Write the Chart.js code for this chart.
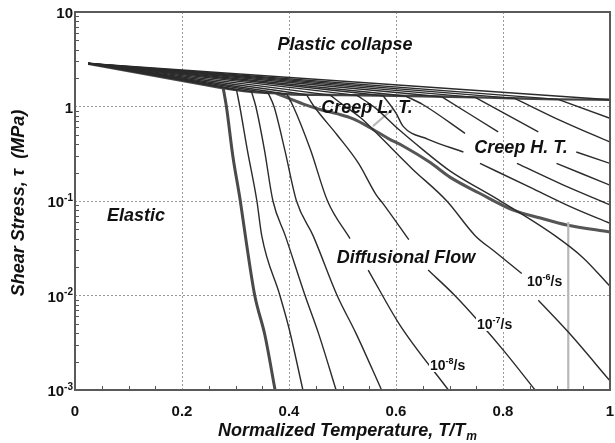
<!DOCTYPE html>
<html><head><meta charset="utf-8">
<script src="https://cdn.jsdelivr.net/npm/chart.js@4"></script>
<style>html,body{margin:0;padding:0;background:#fff}</style>
</head><body>
<canvas id="c" width="615" height="443"></canvas>
<script>
// ---- axis ticks ----
const xTicks = [0, 0.2, 0.4, 0.6, 0.8, 1];
const xTickLabels = ['0', '0.2', '0.4', '0.6', '0.8', '1'];
const yTicks = [0.001, 0.01, 0.1, 1, 10];
const yTickBase = ['10', '10', '10', '1', '10'];
const yTickExp = ['-3', '-2', '-1', '', ''];

// ---- strain-rate contours [T/Tm, tau MPa]; first point = common origin, second = knee; null = break ----
const contour1 = [[0.025,2.85],[0.277,1.57],[0.283,1.0],[0.295,0.3],[0.309,0.1],[0.321,0.034],[0.336,0.01],[0.355,0.0038],[0.374,0.001]];
const contour2 = [[0.025,2.85],[0.302,1.49],[0.308,1.0],[0.322,0.35],[0.340,0.1],[0.349,0.043],[0.383,0.01],[0.40,0.0045],[0.426,0.001]];
const contour3 = [[0.025,2.85],[0.330,1.43],[0.338,1.0],[0.354,0.35],[0.370,0.1],[0.393,0.043],[0.43,0.01],[0.455,0.004],[0.488,0.001]];
const contour4 = [[0.025,2.85],[0.361,1.39],[0.372,1.0],[0.392,0.35],[0.414,0.1],[0.445,0.043],[0.49,0.01],[0.525,0.004],[0.573,0.001]];
const contour5 = [[0.025,2.85],[0.396,1.35],[0.408,1.0],[0.44,0.35],[0.472,0.1],[0.514,0.04],null,[0.548,0.0186],[0.607,0.0049],[0.698,0.001]];
const contour6 = [[0.025,2.85],[0.433,1.33],[0.447,1.0],[0.49,0.5],[0.53,0.25],[0.563,0.116],[0.575,0.095],[0.624,0.039],null,[0.660,0.0186],[0.710,0.01],[0.76,0.0049],[0.804,0.0025],[0.860,0.001]];
const contour7 = [[0.025,2.85],[0.477,1.32],[0.50,1.05],[0.535,0.75],[0.570,0.48],[0.63,0.22],[0.695,0.1],[0.748,0.043],[0.785,0.029],[0.835,0.0171],null,[0.866,0.0089],[0.922,0.0041],[1.0,0.00125]];
const contour8 = [[0.025,2.85],[0.527,1.31],[0.56,0.98],[0.607,0.56],[0.65,0.35],[0.70,0.21],[0.794,0.101],[0.897,0.043],[0.950,0.025],[1.0,0.0125]];
const contour9 = [[0.025,2.85],[0.576,1.30],[0.60,0.85],[0.613,0.62],[0.66,0.45],[0.726,0.33],null,[0.757,0.25],[0.85,0.14],[0.93,0.085],[1.0,0.058]];
const contour10 = [[0.025,2.85],[0.618,1.29],[0.65,1.05],[0.729,0.52],null,[0.826,0.25],[0.91,0.15],[1.0,0.091]];
const contour11 = [[0.025,2.85],[0.685,1.27],[0.791,0.54],null,[0.90,0.25],[1.0,0.147]];
const contour12 = [[0.025,2.85],[0.748,1.25],[0.866,0.54],null,[0.937,0.33],[1.0,0.25]];
const contour13 = [[0.025,2.85],[0.822,1.22],[0.91,0.7],[1.0,0.42]];
const contour14 = [[0.025,2.85],[0.903,1.19],[1.0,0.75]];
const collapseEnvelope = [[0.277,1.57],[0.302,1.49],[0.330,1.43],[0.361,1.39],[0.40,1.35],[0.45,1.33],[0.5,1.32],[0.6,1.30],[0.7,1.27],[0.8,1.23],[0.9,1.19],[1.0,1.18]];
const topEnvelope = [[0.025,2.85],[1.0,1.18]];
const diffusionBoundary = [[0.376,1.38],[0.427,1.06],[0.458,0.93],[0.489,0.84],[0.52,0.74],[0.551,0.6],[0.585,0.46],[0.614,0.38],[0.664,0.255],[0.70,0.18],[0.757,0.12],[0.819,0.08],[0.87,0.066],[0.919,0.0557],[1.0,0.047]];
const creepLTHTBoundary = [[0.557,0.62],[0.595,0.95]];
const diffusionSplit = [[0.922,0.06],[0.922,0.001]];

const thinContours = [contour2,contour3,contour4,contour5,contour6,contour7,contour8,contour9,contour10,contour11,contour12,contour13,contour14];

function toPts(arr){
  const out=[]; let lastX=0;
  arr.forEach(p=>{ if(p){ out.push({x:p[0],y:p[1]}); lastX=p[0]; } else out.push({x:lastX,y:null}); });
  return out;
}
function ds(arr,color,width,curved){
  const d={data:toPts(arr),showLine:true,borderColor:color,borderWidth:width,pointRadius:0,spanGaps:false,fill:false,tension:0};
  if(curved){ d.cubicInterpolationMode='monotone'; d.tension=0.4; }
  return d;
}
const datasets = [];
function addContour(c,color,width){
  datasets.push(ds(c.slice(0,2),color,width,false));
  datasets.push(ds(c.slice(1),color,width,true));
}
thinContours.forEach(c=>addContour(c,'#2b2b2b',1.4));
datasets.push(ds(topEnvelope,'#2b2b2b',1.4,false));
datasets.push(ds(creepLTHTBoundary,'#b8b8b8',2,false));
datasets.push(ds(diffusionSplit,'#b8b8b8',2.2,false));
datasets.push(ds(collapseEnvelope,'#444',2.4,true));
addContour(contour1,'#4a4a4a',3);
datasets.push(ds(diffusionBoundary,'#555',3,true));

const FONT='"Liberation Sans", Arial, Helvetica, sans-serif';
function supText(ctx, base, exp, tail, x, y, size, align){
  ctx.font='bold '+size+'px '+FONT;
  const wb=ctx.measureText(base).width;
  const es=Math.round(size*0.66);
  ctx.font='bold '+es+'px '+FONT;
  const we=exp?ctx.measureText(exp).width:0;
  ctx.font='bold '+size+'px '+FONT;
  const wt=tail?ctx.measureText(tail).width:0;
  const total=wb+we+wt;
  let sx = align==='right'? x-total : x;
  ctx.textAlign='left';
  ctx.fillText(base,sx,y);
  if(exp){ ctx.font='bold '+es+'px '+FONT; ctx.fillText(exp,sx+wb,y-size*0.42); }
  if(tail){ ctx.font='bold '+size+'px '+FONT; ctx.fillText(tail,sx+wb+we,y); }
}

const overlay = {
  id:'overlay',
  afterDraw(chart){
    const {ctx, chartArea:a, scales:{x,y}} = chart;
    ctx.save();
    ctx.strokeStyle='#555'; ctx.lineWidth=1;
    ctx.beginPath();
    for(let i=1;i<20;i++){ if(i%4===0) continue; const px=Math.round(x.getPixelForValue(i*0.05))+0.5; ctx.moveTo(px,a.bottom); ctx.lineTo(px,a.bottom-4); }
    for(let d=-3; d<=0; d++){ for(let m=2;m<=9;m++){ const py=Math.round(y.getPixelForValue(m*Math.pow(10,d)))+0.5; ctx.moveTo(a.left,py); ctx.lineTo(a.left+4,py);} }
    ctx.stroke();
    ctx.strokeStyle='#5a5a5a'; ctx.lineWidth=2;
    ctx.strokeRect(a.left,a.top,a.right-a.left,a.bottom-a.top);

    ctx.fillStyle='#111'; ctx.textBaseline='alphabetic';
    ctx.font='bold 15px '+FONT; ctx.textAlign='center';
    xTicks.forEach((v,i)=>{ ctx.fillText(xTickLabels[i], x.getPixelForValue(v), a.bottom+26); });
    yTicks.forEach((v,i)=>{ supText(ctx, yTickBase[i], yTickExp[i], '', a.left-2, y.getPixelForValue(v)+6, 15, 'right'); });

    ctx.font='italic bold 18px '+FONT;
    const t1='Normalized Temperature, T/T';
    const w1=ctx.measureText(t1).width;
    ctx.font='italic bold 12px '+FONT;
    const w2=ctx.measureText('m').width;
    const sx=347-(w1+w2)/2;
    ctx.font='italic bold 18px '+FONT; ctx.textAlign='left';
    ctx.fillText(t1,sx,436);
    ctx.font='italic bold 12px '+FONT; ctx.fillText('m',sx+w1+1,440);

    ctx.save();
    ctx.translate(24,203); ctx.rotate(-Math.PI/2);
    ctx.font='italic bold 18px '+FONT; ctx.textAlign='center';
    ctx.fillText('Shear Stress, \u03C4  (MPa)',0,0);
    ctx.restore();

    ctx.font='italic bold 18px '+FONT; ctx.textAlign='center';
    ctx.fillText('Plastic collapse',345,50);
    ctx.fillText('Creep L. T.',367,113);
    ctx.fillText('Creep H. T.',521,153);
    ctx.fillText('Elastic',136,221);
    ctx.fillText('Diffusional Flow',406,263);

    [['-6',527,286],['-7',477,329],['-8',430,370]].forEach(([e,lx,ly])=>{
      ctx.fillStyle='#fff'; ctx.fillRect(lx-1,ly-13,36,15);
      ctx.fillStyle='#111';
      supText(ctx,'10',e,'/s',lx,ly,14,'left');
    });
    ctx.restore();
  }
};

new Chart(document.getElementById('c'),{
  type:'scatter',
  data:{datasets},
  options:{
    responsive:false, animation:false,
    layout:{padding:{left:75,top:12,right:5,bottom:53}},
    plugins:{legend:{display:false},tooltip:{enabled:false}},
    scales:{
      x:{type:'linear',min:0,max:1,
         afterBuildTicks:s=>{ s.ticks = xTicks.map(v=>({value:v})); },
         ticks:{display:false},
         grid:{color:'#9a9a9a',lineWidth:1,drawTicks:false},
         border:{display:false,dash:[2,2]}},
      y:{type:'logarithmic',min:0.001,max:10,
         afterBuildTicks:s=>{ s.ticks = yTicks.map(v=>({value:v})); },
         ticks:{display:false},
         grid:{color:'#9a9a9a',lineWidth:1,drawTicks:false},
         border:{display:false,dash:[2,2]}}
    }
  },
  plugins:[overlay]
});
</script>
</body></html>
